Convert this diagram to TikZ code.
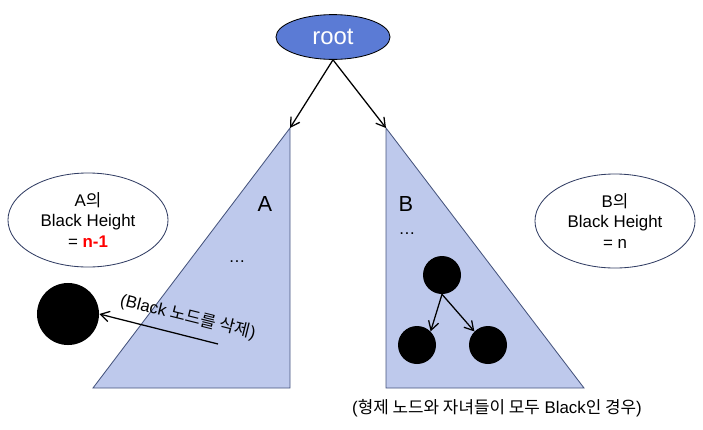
\documentclass[tikz,border=0pt]{standalone}
\usepackage{fontspec}
\setmainfont{Liberation Sans}
\newfontfamily\kr{Noto Sans CJK KR}
\usetikzlibrary{positioning,arrows.meta,shapes.geometric}
\definecolor{rootblue}{RGB}{91,123,213}
\definecolor{treefill}{RGB}{190,201,236}
\definecolor{treeline}{RGB}{70,84,125}
\definecolor{ovalline}{RGB}{50,62,100}
\tikzset{
  edge/.style={-{Straight Barb[length=2.2mm,width=2.6mm]},line width=0.9pt},
  subtree/.style={fill=treefill,draw=treeline,line width=0.6pt},
  rootnode/.style={ellipse,draw=black,line width=0.6pt,fill=rootblue,text=white,
    minimum width=2.85cm,minimum height=1.12cm,font=\fontsize{17}{18}\selectfont},
  bhnote/.style={ellipse,draw=ovalline,line width=0.6pt,minimum width=4cm,
    minimum height=2.35cm,align=center,font=\fontsize{12}{14.5}\selectfont},
  blk/.style={circle,fill=black,inner sep=0pt},
  lbl/.style={font=\fontsize{12}{14}\selectfont},
}
\begin{document}
\begin{tikzpicture}[x=0.025cm,y=-0.025cm]
  \useasboundingbox (0,0) rectangle (703,429);
  % subtrees A and B
  \coordinate (topA) at (290,128);
  \coordinate (topB) at (386,128);
  \draw[subtree] (topA) -- (93,388) -- (290,388) -- cycle;
  \draw[subtree] (topB) -- (386,388) -- (584,388) -- cycle;
  \node[rootnode] (root) at (333,37) {root};
  \draw[edge] (root.south) -- (topA);
  \draw[edge] (root.south) -- (topB);
  \node[font=\fontsize{15.5}{18}\selectfont] (nameA) at (265,204) {A};
  \node[font=\fontsize{15.5}{18}\selectfont] (nameB) at (406,204) {B};
  \node[lbl] (dotsA) at (237,262) {\dots};
  \node[lbl] (dotsB) at (407,234) {\dots};
  % black height notes
  \node[bhnote] (noteA) at (88,220) {A{\kr 의}\\Black Height\\= \textcolor{red}{\textbf{n-1}}};
  \node[bhnote] (noteB) at (615,221) {B{\kr 의}\\Black Height\\= n};
  % deleted node
  \node[blk,minimum size=1.55cm] (del) at (68,314) {};
  \coordinate (delfrom) at (218,344);
  \draw[edge] (delfrom) -- (del.east);
  \node[lbl,rotate=-14] (deltxt) at (188,317) {(Black {\kr 노드를 삭제})};
  % sibling and its children
  \node[blk,minimum size=0.95cm] (sib) at (442,275) {};
  \node[blk,minimum size=0.95cm] (kidL) at (417,345) {};
  \node[blk,minimum size=0.95cm] (kidR) at (488,345) {};
  \draw[edge] (sib.south) -- (kidL.north east);
  \draw[edge] (sib.south) -- (kidR.north west);
  \node[lbl] (caption) at (497,408) {({\kr 형제 노드와 자녀들이 모두} Black{\kr 인 경우})};
\end{tikzpicture}
\end{document}
